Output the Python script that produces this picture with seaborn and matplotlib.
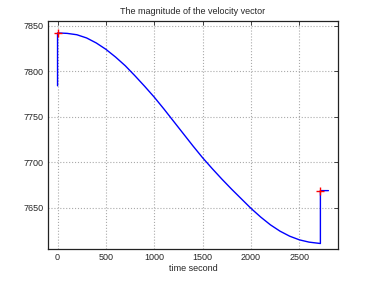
import matplotlib
matplotlib.use("Agg")
import matplotlib.pyplot as plt
import seaborn as sns

# velocity magnitude (time in s, speed in m/s)
t = [0, 0, 100, 200, 300, 400, 500, 600, 700, 800, 900, 1000, 1100, 1200, 1300, 1400, 1500,
     1600, 1700, 1800, 1900, 2000, 2100, 2200, 2300, 2400, 2500, 2600, 2717, 2717, 2800]
v = [7784, 7842, 7841.5, 7840, 7836.5, 7831, 7824, 7815.5, 7806, 7795, 7783.5, 7771.5, 7758.5, 7745, 7731.5, 7718, 7705,
     7693, 7681.5, 7670.5, 7660, 7649.5, 7640, 7631.5, 7624.5, 7619, 7615, 7612.5, 7611, 7669, 7669]
# the two marked points
mark_t = [0, 2717]
mark_v = [7842, 7669]

sns.set_style("white")
plt.rcParams['font.family'] = ['Liberation Sans', 'DejaVu Sans']

fig = plt.figure(figsize=(3.74, 2.81), dpi=100)
ax = fig.add_axes([0.128, 0.114, 0.776, 0.811])

sns.lineplot(x=t, y=v, estimator=None, sort=False, color="blue", linewidth=1, ax=ax)
sns.scatterplot(x=mark_t, y=mark_v, marker="+", color="red", s=30, linewidth=1, zorder=5, ax=ax)

ax.set_xlim(-100, 2900)
ax.set_ylim(7605, 7855)
ax.set_xticks([0, 500, 1000, 1500, 2000, 2500])
ax.set_yticks([7650, 7700, 7750, 7800, 7850])
ax.grid(True, linestyle=":", color="#aaaaaa", linewidth=0.8)
ax.tick_params(direction="in", length=3, width=0.6, labelsize=6.5, top=True, right=True, pad=3)
for s in ax.spines.values():
    s.set_color("#222222")
    s.set_linewidth(0.9)
    s.set_visible(True)

ax.set_title("The magnitude of the velocity vector", fontsize=6.5, pad=5)
ax.set_xlabel("time second", fontsize=6.5, labelpad=1)

fig.savefig("out.png", dpi=100)
